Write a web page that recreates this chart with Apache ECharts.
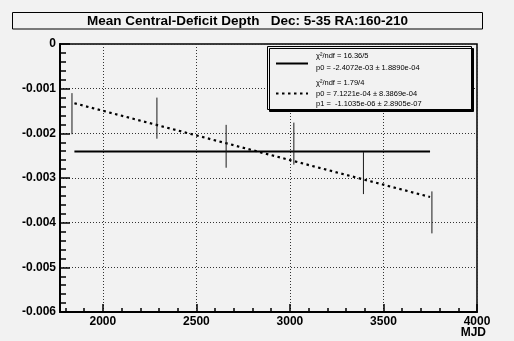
<!DOCTYPE html>
<html>
<head>
<meta charset="utf-8">
<script src="https://cdn.jsdelivr.net/npm/echarts@6/dist/echarts.min.js"></script>
<style>
  html, body { margin: 0; padding: 0; background: #f2f2f2; }
  #chart { width: 514px; height: 341px; }
</style>
</head>
<body>
<div id="chart"></div>
<script>
// measured points (MJD, depth, error)
const mjd = [1835, 2289, 2659, 3021, 3393, 3759]
const depth = [-0.00156, -0.00166, -0.00229, -0.00223, -0.00289, -0.00377]
const depthErr = [0.00046, 0.00046, 0.00048, 0.00047, 0.00047, 0.00047]

// fit lines, endpoints
const fitX = [1848, 3749]
const constFit = [-0.0024072, -0.0024072]
const linearFit = [-0.001327, -0.003425]

// ticks
const xMajor = [2000, 2500, 3000, 3500, 4000]
const xMinor = [1800, 1900, 2100, 2200, 2300, 2400, 2600, 2700, 2800, 2900,
  3100, 3200, 3300, 3400, 3600, 3700, 3800, 3900]
const yMinor = [-0.0002, -0.0004, -0.0006, -0.0008, -0.0012, -0.0014, -0.0016, -0.0018,
  -0.0022, -0.0024, -0.0026, -0.0028, -0.0032, -0.0034, -0.0036, -0.0038,
  -0.0042, -0.0044, -0.0046, -0.0048, -0.0052, -0.0054, -0.0056, -0.0058]

const titleText = 'Mean Central-Deficit Depth   Dec: 5-35 RA:160-210'
const legendLines = [
  'χ²/ndf = 16.36/5',
  'p0 = -2.4072e-03 ± 1.8890e-04',
  'χ²/ndf = 1.79/4',
  'p0 = 7.1221e-04 ± 8.3869e-04',
  'p1 =  -1.1035e-06 ± 2.8905e-07'
]

const font = '"Liberation Sans", Arial, sans-serif'
const chart = echarts.init(document.getElementById('chart'), null, { renderer: 'canvas' })

const errData = mjd.map((x, i) => [x, depth[i], depthErr[i]])
const tickStyle = { color: '#000', width: 1.5 }
const gridBox = { left: 60, right: 37, top: 44, bottom: 29 }

const option = {
  backgroundColor: '#f2f2f2',
  animation: false,
  grid: [
    Object.assign({ show: true, borderColor: '#000', borderWidth: 1.5, backgroundColor: '#f2f2f2' }, gridBox),
    // same box, only carries the minor ticks
    Object.assign({ show: false }, gridBox)
  ],
  xAxis: [
    {
      type: 'value', min: 1771, max: 4000, gridIndex: 0,
      axisLine: { show: true, onZero: false, lineStyle: { color: '#000', width: 2 } },
      axisTick: { show: true, inside: true, length: 8, customValues: xMajor, lineStyle: tickStyle },
      axisLabel: {
        customValues: xMajor, margin: 4,
        color: '#000', fontFamily: font, fontWeight: 'bold', fontSize: 12,
        formatter: v => String(v)
      },
      splitLine: { show: true, lineStyle: { color: '#333', type: [1, 2], width: 1 } }
    },
    {
      type: 'value', min: 1771, max: 4000, gridIndex: 1, position: 'bottom',
      axisLine: { show: false, onZero: false },
      axisTick: { show: true, inside: true, length: 4, customValues: xMinor, lineStyle: tickStyle },
      axisLabel: { show: false },
      splitLine: { show: false }
    }
  ],
  yAxis: [
    {
      type: 'value', min: -0.006, max: 0, interval: 0.001, gridIndex: 0,
      axisLine: { show: true, onZero: false, lineStyle: { color: '#000', width: 2 } },
      axisTick: { show: true, inside: true, length: 10, lineStyle: tickStyle },
      axisLabel: {
        margin: 4, color: '#000', fontFamily: font, fontWeight: 'bold', fontSize: 12,
        formatter: v => (Math.abs(v) < 1e-12 ? '0' : v.toFixed(3))
      },
      splitLine: { show: true, lineStyle: { color: '#333', type: [1, 2], width: 1 } }
    },
    {
      type: 'value', min: -0.006, max: 0, gridIndex: 1, position: 'left',
      axisLine: { show: false, onZero: false },
      axisTick: { show: true, inside: true, length: 6, customValues: yMinor, lineStyle: tickStyle },
      axisLabel: { show: false },
      splitLine: { show: false }
    }
  ],
  series: [
    {
      type: 'custom',
      data: errData,
      z: 5,
      renderItem: function (params, api) {
        const x = api.value(0), y = api.value(1), e = api.value(2)
        const top = api.coord([x, y + e])
        const bot = api.coord([x, y - e])
        return {
          type: 'line',
          shape: { x1: top[0], y1: top[1], x2: bot[0], y2: bot[1] },
          style: { stroke: '#1a1a1a', lineWidth: 1 }
        }
      }
    },
    {
      type: 'line', symbol: 'none', z: 4,
      data: fitX.map((x, i) => [x, constFit[i]]),
      lineStyle: { color: '#000', width: 2 }
    },
    {
      type: 'line', symbol: 'none', z: 4,
      data: fitX.map((x, i) => [x, linearFit[i]]),
      lineStyle: { color: '#000', width: 2.2, type: [2.5, 3.5] }
    }
  ],
  graphic: [
    {
      type: 'rect', z: 10,
      shape: { x: 12.5, y: 12.5, width: 470, height: 16.5 },
      style: { fill: '#f2f2f2', stroke: '#000', lineWidth: 1 }
    },
    {
      type: 'text', z: 11, x: 247.5, y: 21,
      style: {
        text: titleText, font: 'bold 13.5px ' + font, fill: '#000',
        textAlign: 'center', textVerticalAlign: 'middle'
      }
    },
    {
      type: 'rect', z: 10,
      shape: { x: 267.5, y: 46.5, width: 204, height: 63 },
      style: {
        fill: '#f2f2f2', stroke: '#000', lineWidth: 1,
        shadowColor: '#000', shadowOffsetX: 2, shadowOffsetY: 2, shadowBlur: 0
      }
    },
    {
      type: 'line', z: 11,
      shape: { x1: 276, y1: 63.5, x2: 308, y2: 63.5 },
      style: { stroke: '#000', lineWidth: 2 }
    },
    {
      type: 'line', z: 11,
      shape: { x1: 276, y1: 93.5, x2: 308, y2: 93.5 },
      style: { stroke: '#000', lineWidth: 2.2, lineDash: [2.5, 3.5] }
    },
    ...legendLines.map((t, i) => ({
      type: 'text', z: 11, x: 316, y: [56, 68, 83, 94, 104][i],
      style: {
        text: t, font: '7.5px ' + font, fill: '#000',
        textAlign: 'left', textVerticalAlign: 'middle'
      }
    })),
    {
      type: 'text', z: 11, x: 486, y: 333,
      style: {
        text: 'MJD', font: 'bold 12px ' + font, fill: '#000',
        textAlign: 'right', textVerticalAlign: 'middle'
      }
    }
  ]
}

chart.setOption(option)
</script>
</body>
</html>
